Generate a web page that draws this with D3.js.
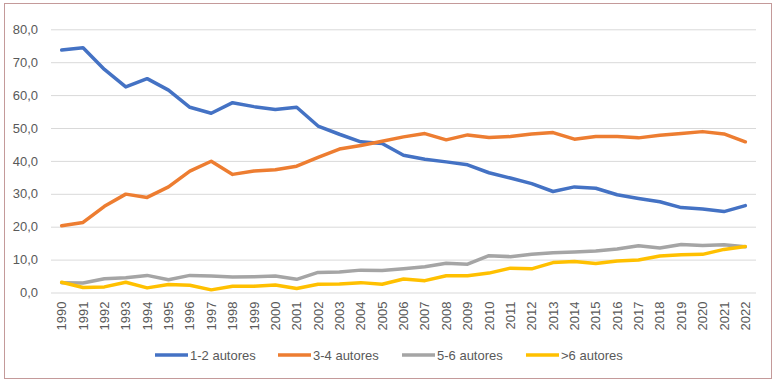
<!DOCTYPE html>
<html>
<head>
<meta charset="utf-8">
<script src="https://cdn.jsdelivr.net/npm/d3@7"></script>
<style>
  body { margin: 0; background: #fff; }
  svg { display: block; font-family: "Liberation Sans", Arial, sans-serif; }
</style>
</head>
<body>
<div id="chart"></div>
<script>
// data
const years = d3.range(1990, 2023).map(String);
const autores12 = [73.7,74.4,67.8,62.5,65.0,61.5,56.3,54.5,57.7,56.5,55.6,56.3,50.6,48.1,45.8,45.3,41.7,40.5,39.7,38.8,36.4,34.8,33.1,30.7,32.1,31.7,29.7,28.6,27.6,25.8,25.4,24.6,26.4];
const autores34 = [20.3,21.3,26.2,29.9,28.9,32.1,36.9,39.9,35.9,36.9,37.3,38.4,41.1,43.6,44.7,46.0,47.3,48.3,46.4,47.9,47.1,47.4,48.2,48.6,46.6,47.4,47.4,47.0,47.8,48.3,48.9,48.2,45.8];
const autores56 = [3.0,2.9,4.2,4.5,5.2,3.9,5.2,5.0,4.7,4.8,5.0,4.0,6.1,6.2,6.8,6.7,7.2,7.8,8.9,8.6,11.2,10.9,11.6,12.1,12.3,12.6,13.2,14.2,13.5,14.6,14.3,14.5,13.9];
const autores6plus = [3.1,1.5,1.7,3.1,1.4,2.4,2.2,0.8,1.9,1.9,2.3,1.2,2.5,2.6,3.0,2.5,4.1,3.6,5.1,5.1,5.9,7.4,7.2,9.1,9.4,8.8,9.6,9.9,11.1,11.5,11.6,13.1,14.0];
const seriesNames = ["1-2 autores", "3-4 autores", "5-6 autores", ">6 autores"];
const seriesColors = ["#4472c4", "#ed7d31", "#a5a5a5", "#ffc000"];
const yTicks = [0,10,20,30,40,50,60,70,80];

const allSeries = [autores12, autores34, autores56, autores6plus];

const width = 776, height = 384;
const margin_left = 51, margin_right = 20, margin_top = 29.3, plot_bottom = 292.5;

const svg = d3.select("#chart").append("svg")
  .attr("width", width)
  .attr("height", height);

svg.append("rect")
  .attr("x", 4.5).attr("y", 3.5)
  .attr("width", 767).attr("height", 375)
  .attr("fill", "#fff")
  .attr("stroke", "#c49a9a")
  .attr("stroke-width", 1);

const x_scale = d3.scaleBand()
  .domain(years)
  .range([margin_left, width - margin_right]);

const y_scale = d3.scaleLinear()
  .domain([0, 80])
  .range([plot_bottom, margin_top]);

const locale = d3.formatLocale({decimal: ",", thousands: ".", grouping: [3], currency: ["", ""]});
const fmt = locale.format(".1f");

// gridlines + y labels
const yAxis = svg.append("g")
  .attr("transform", "translate(" + margin_left + ",0)")
  .call(d3.axisLeft(y_scale).tickValues(yTicks).tickFormat(fmt)
    .tickSize(-(width - margin_right - margin_left)).tickPadding(13));
yAxis.select(".domain").remove();
yAxis.selectAll("line").attr("stroke", "#d9d9d9").attr("stroke-width", 1);
yAxis.selectAll("text")
  .attr("fill", "#595959")
  .style("font-size", "13px");

// x labels
const xAxis = svg.append("g")
  .attr("transform", "translate(0," + plot_bottom + ")")
  .call(d3.axisBottom(x_scale).tickSize(0).tickPadding(0));
xAxis.select(".domain").remove();
xAxis.selectAll("text")
  .attr("fill", "#595959")
  .style("font-size", "13px")
  .style("text-anchor", "end")
  .attr("transform", "rotate(-90)")
  .attr("x", -9)
  .attr("y", 0)
  .attr("dy", "0.35em");

const line = d3.line()
  .x((d, i) => x_scale(years[i]) + x_scale.bandwidth() / 2)
  .y(d => y_scale(d));

svg.append("g").selectAll("path")
  .data(allSeries)
  .enter()
  .append("path")
  .attr("d", d => line(d))
  .attr("fill", "none")
  .attr("stroke", (d, i) => seriesColors[i])
  .attr("stroke-width", 3.5)
  .attr("stroke-linejoin", "round")
  .attr("stroke-linecap", "round");

// legend
const legendX = [155, 278, 402, 526];
const legend = svg.append("g").selectAll("g")
  .data(seriesNames)
  .enter()
  .append("g")
  .attr("transform", (d, i) => "translate(" + legendX[i] + ",355)");
legend.append("line")
  .attr("x1", 0).attr("x2", 33)
  .attr("stroke", (d, i) => seriesColors[i])
  .attr("stroke-width", 3.5);
legend.append("text")
  .attr("x", 35)
  .attr("dy", "0.35em")
  .attr("fill", "#595959")
  .style("font-size", "13px")
  .text(d => d);
</script>
</body>
</html>
